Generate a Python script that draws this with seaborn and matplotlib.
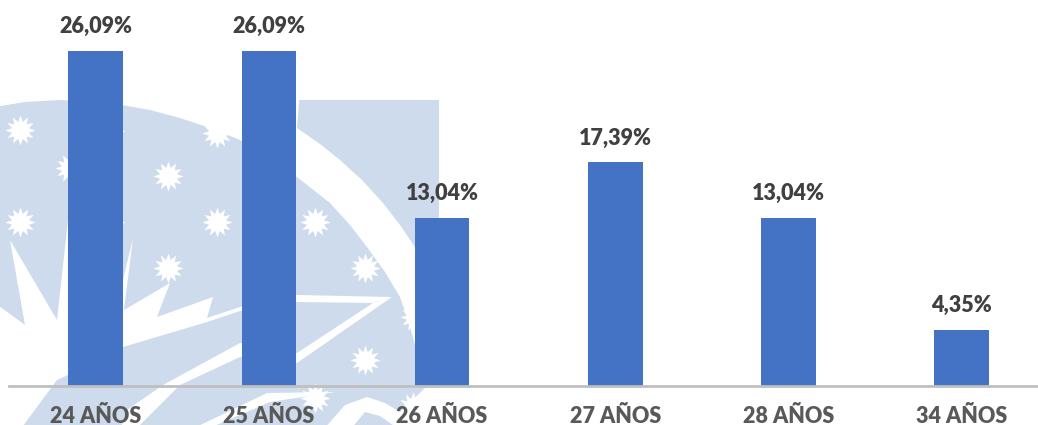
import matplotlib
matplotlib.use("Agg")
import matplotlib.pyplot as plt
import pandas as pd
import seaborn as sns
from matplotlib.patches import Polygon, Rectangle
from matplotlib.path import Path

edades = ["24 AÑOS", "25 AÑOS", "26 AÑOS", "27 AÑOS", "28 AÑOS", "34 AÑOS"]
porcentajes = [26.09, 26.09, 13.04, 17.39, 13.04, 4.35]
etiquetas = ["26,09%", "26,09%", "13,04%", "17,39%", "13,04%", "4,35%"]

# watermark pieces, in picture pixels (decoration, not data)
WM_BLUE = "#CDDBEC"
wm_white = [
    # band round the disk
    [(-5, 90), (300, 90), (297, 128), (320, 144), (340, 160), (362, 180), (383, 203), (400, 225),
     (415, 247), (445, 305), (445, 395), (415, 345), (408, 320), (400, 297), (385, 272), (367, 247),
     (350, 225), (330, 203), (297, 177), (270, 158), (240, 140), (210, 128), (180, 118), (150, 110),
     (105, 102), (60, 100), (25, 102), (-5, 107)],
    # lower left burst and lightning
    [(-5, 303), (25, 325), (10, 240), (57, 320), (68, 220), (75, 300), (123, 280), (133, 238),
     (124, 310), (170, 283), (157, 317), (213, 297), (207, 318), (240, 307), (297, 295), (392, 297),
     (373, 303), (297, 302), (240, 311), (207, 322), (123, 347), (100, 360), (57, 380), (20, 430),
     (-5, 430)],
    # diagonal from the tip
    [(392, 297), (373, 303), (297, 353), (240, 343), (163, 385), (127, 410), (120, 430), (135, 430),
     (170, 395), (180, 385), (240, 357), (297, 363)],
    # stripe under the axis
    [(190, 430), (267, 393), (335, 392), (270, 402), (205, 430)],
    # wave under the axis, right
    [(323, 430), (345, 405), (367, 397), (385, 403), (400, 412), (425, 388), (445, 388), (445, 430),
     (400, 430), (380, 416), (365, 412), (350, 430)],
]
wm_stars_x = [20, 110, 70, 168, 217, 20, 110, 217, 315, 168, 365, 365, 415, 315, 413]
wm_stars_y = [130, 131, 168, 176, 133, 222, 222, 222, 222, 268, 268, 360, 317, 398, 407]

sns.set_theme(style="white")
plt.rcParams["font.family"] = ["Lato", "DejaVu Sans"]

df = pd.DataFrame({"edad": edades, "pct": porcentajes})

fig = plt.figure(figsize=(10.38, 4.25), dpi=100, facecolor="white")

# background logo
bg = fig.add_axes([0, 0, 1, 1], zorder=0)
bg.set_xlim(0, 1038)
bg.set_ylim(425, 0)
bg.axis("off")
bg.add_patch(Rectangle((0, 100), 439, 325, color=WM_BLUE, lw=0))
for pts in wm_white:
    bg.add_patch(Polygon(pts, closed=True, color="white", lw=0))
star = Path.unit_regular_star(12, innerCircle=0.58)
bg.scatter(wm_stars_x, wm_stars_y, marker=star, s=470, color="white", lw=0, zorder=3)

# bars
ax = fig.add_axes([9 / 1038, 1 - 385.5 / 425, 1029 / 1038, 385.5 / 425], zorder=1)
ax.patch.set_alpha(0)
sns.barplot(data=df, x="edad", y="pct", color="#4472C4", saturation=1, width=0.315,
            linewidth=0, edgecolor="none", ax=ax)
ax.set_xlim(-0.5, 5.44)
ax.set_ylim(0, 385.5 / 12.83)
ax.set_xlabel("")
ax.set_ylabel("")
ax.set_yticks([])
sns.despine(ax=ax, left=True, right=True, top=True)
ax.spines["bottom"].set_color("#BFBFBF")
ax.spines["bottom"].set_linewidth(2)
ax.tick_params(axis="x", length=0, pad=14.5)
for lab in ax.get_xticklabels():
    lab.set_fontsize(15.5)
    lab.set_fontweight("heavy")
    lab.set_color("#595959")

ax.bar_label(ax.containers[0], labels=etiquetas, padding=10, fontsize=15.5,
             fontweight="heavy", color="#404040")

fig.savefig("out.png", dpi=100)
